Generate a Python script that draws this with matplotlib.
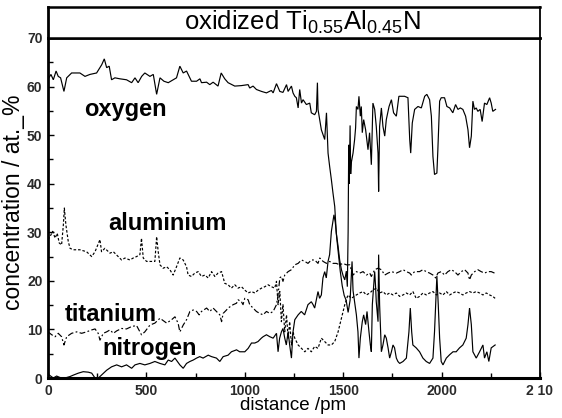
import matplotlib
matplotlib.use("Agg")
import matplotlib.pyplot as plt
from matplotlib.ticker import MultipleLocator, FixedLocator

plt.rcParams['font.family'] = ['Liberation Sans', 'DejaVu Sans']
plt.rcParams['mathtext.fontset'] = 'custom'
plt.rcParams['mathtext.rm'] = 'Liberation Sans'
plt.rcParams['mathtext.it'] = 'Liberation Sans:italic'
plt.rcParams['mathtext.bf'] = 'Liberation Sans:bold'
plt.rcParams['mathtext.default'] = 'regular'

# ---- depth profiles (distance in pm, concentration in at.%) ----
oxygen_x = [0, 15, 27, 41, 52, 64, 81, 95, 120, 162, 188, 213, 247, 273, 286, 298, 311, 323,
            340, 365, 399, 425, 442, 458, 476, 492, 518, 535, 552, 569, 589, 611, 636, 653,
            670, 687, 704, 729, 755, 772, 780, 806, 822, 839, 864, 880, 898, 915, 949, 983,
            1017, 1025, 1042, 1059, 1085, 1110, 1135, 1144, 1161, 1178, 1194, 1212, 1220,
            1237, 1245, 1254, 1262, 1271, 1279, 1288, 1296, 1313, 1330, 1338, 1355, 1364,
            1369, 1372, 1381, 1389, 1406, 1415, 1423, 1431, 1440, 1448, 1457, 1465, 1474,
            1482, 1491, 1500, 1508, 1516, 1521, 1525, 1528, 1531, 1535, 1538, 1541, 1550,
            1558, 1563, 1567, 1575, 1580, 1587, 1592, 1597, 1604, 1614, 1626, 1634, 1643,
            1651, 1660, 1668, 1677, 1680, 1685, 1694, 1702, 1711, 1719, 1733, 1745, 1756,
            1770, 1783, 1795, 1812, 1829, 1838, 1843, 1851, 1863, 1880, 1897, 1914, 1925,
            1939, 1948, 1956, 1964, 1976, 1981, 1990, 1998, 2015, 2027, 2041, 2057, 2071,
            2083, 2095, 2108, 2122, 2134, 2142, 2151, 2159, 2167, 2176, 2184, 2196, 2206,
            2218, 2230, 2244, 2252, 2260, 2274]
oxygen_c = [61.5, 62.5, 61.4, 63.2, 62.1, 61.8, 59.0, 61.8, 62.8, 62.8, 62.1, 62.5, 62.8, 64.5,
            65.7, 63.9, 64.2, 61.4, 61.8, 61.6, 61.4, 60.8, 61.8, 60.8, 62.1, 62.8, 62.1, 62.5,
            58.4, 61.8, 61.1, 60.8, 61.4, 61.8, 64.2, 62.8, 63.2, 61.1, 61.1, 61.6, 60.8, 60.9,
            60.4, 60.9, 60.1, 62.8, 61.6, 60.8, 60.1, 60.2, 60.4, 59.7, 60.1, 59.4, 59.0, 58.7,
            59.2, 58.7, 60.6, 59.0, 58.8, 60.4, 59.0, 60.1, 58.7, 58.0, 57.7, 55.6, 59.4, 56.6,
            57.3, 56.3, 56.6, 54.6, 54.2, 54.9, 60.8, 55.3, 53.0, 51.1, 49.1, 54.6, 46.3, 43.6,
            40.8, 38.1, 35.3, 29.8, 27.1, 24.3, 22.3, 21.0, 20.2, 22.0, 18.8, 30.0, 48.0, 40.0,
            52.0, 42.0, 44.3, 46.3, 49.1, 51.5, 55.9, 55.3, 58.0, 53.9, 55.9, 50.5, 53.2, 51.1,
            47.0, 50.5, 43.9, 56.6, 55.3, 51.8, 46.3, 38.4, 51.8, 55.6, 51.8, 49.8, 53.2, 55.9,
            57.3, 54.6, 53.9, 58.0, 58.0, 58.0, 57.7, 49.1, 46.3, 52.5, 55.3, 55.9, 55.6, 58.0,
            58.4, 57.3, 53.9, 45.6, 41.9, 42.2, 47.0, 57.0, 57.7, 57.7, 55.9, 55.6, 54.6, 56.3,
            55.3, 55.6, 55.3, 53.9, 51.1, 47.4, 49.8, 57.0, 55.3, 55.6, 54.9, 55.3, 52.8, 56.6,
            56.3, 57.7, 56.6, 54.9, 55.3]

aluminium_x = [0, 10, 24, 36, 47, 57, 69, 78, 83, 91, 103, 112, 129, 162, 196, 222, 239, 264,
               272, 289, 315, 332, 357, 374, 391, 416, 433, 450, 467, 475, 484, 501, 518, 543,
               552, 560, 569, 585, 603, 619, 636, 653, 670, 687, 704, 712, 729, 746, 763, 780,
               797, 814, 831, 848, 864, 882, 898, 915, 932, 949, 966, 983, 1000, 1017, 1034,
               1051, 1068, 1085, 1102, 1118, 1135, 1152, 1161, 1169, 1178, 1186, 1194, 1203,
               1212, 1220, 1228, 1237, 1245, 1254, 1271, 1288, 1305, 1321, 1338, 1355, 1372,
               1389, 1406, 1423, 1440, 1457, 1474, 1491, 1508, 1524, 1541, 1567, 1584, 1601,
               1618, 1635, 1651, 1668, 1685, 1702, 1719, 1736, 1753, 1770, 1787, 1804, 1821,
               1838, 1854, 1871, 1888, 1905, 1922, 1939, 1956, 1973, 1990, 2007, 2024, 2041,
               2058, 2074, 2091, 2108, 2125, 2142, 2159, 2176, 2193, 2210, 2227, 2244, 2260,
               2272]
aluminium_c = [28.5, 29.1, 30.2, 28.8, 29.8, 27.8, 27.4, 31.5, 35.0, 31.5, 28.1, 26.7, 26.4,
               26.4, 26.0, 25.0, 26.0, 28.5, 26.0, 26.7, 25.7, 26.0, 25.0, 24.3, 24.7, 24.3,
               24.7, 25.0, 25.4, 28.8, 24.7, 24.0, 24.0, 24.0, 29.1, 26.0, 23.3, 22.6, 22.9,
               22.3, 21.2, 22.9, 24.7, 24.3, 22.9, 21.2, 20.9, 21.6, 21.9, 20.9, 21.2, 20.6,
               21.9, 20.9, 21.6, 21.9, 19.5, 19.2, 18.5, 19.2, 18.5, 18.8, 18.1, 17.5, 17.8,
               17.5, 18.1, 18.5, 18.8, 19.2, 18.8, 18.5, 19.9, 15.1, 17.8, 11.6, 15.1, 9.5,
               13.0, 8.2, 11.6, 6.8, 9.5, 8.2, 6.8, 6.1, 5.4, 6.1, 5.4, 6.5, 6.1, 8.2, 7.5, 6.8,
               6.8, 7.5, 9.5, 12.3, 15.1, 17.1, 16.4, 17.1, 17.5, 17.8, 17.1, 17.5, 18.1, 18.5,
               17.5, 17.8, 17.1, 17.5, 17.1, 17.5, 16.8, 17.1, 17.5, 17.1, 17.8, 16.4, 16.8,
               17.5, 17.1, 17.5, 17.8, 17.1, 17.5, 17.1, 17.8, 17.1, 17.5, 17.8, 17.5, 17.1,
               17.5, 17.8, 17.5, 17.8, 17.5, 17.1, 17.5, 17.1, 16.8, 16.4]

titanium_x = [0, 19, 36, 52, 69, 81, 95, 120, 146, 171, 196, 222, 239, 255, 264, 281, 298, 315,
              332, 349, 374, 399, 425, 450, 467, 475, 492, 518, 543, 569, 603, 628, 645, 661,
              670, 687, 704, 721, 738, 755, 768, 780, 806, 822, 839, 856, 873, 882, 890, 907,
              915, 941, 958, 966, 983, 991, 1000, 1017, 1025, 1042, 1059, 1076, 1093, 1110,
              1127, 1144, 1161, 1169, 1178, 1186, 1194, 1203, 1220, 1237, 1254, 1271, 1288,
              1305, 1321, 1338, 1355, 1372, 1381, 1398, 1415, 1431, 1448, 1465, 1482, 1499,
              1516, 1533, 1550, 1567, 1584, 1601, 1618, 1635, 1643, 1660, 1677, 1694, 1711,
              1728, 1745, 1770, 1787, 1804, 1821, 1838, 1846, 1863, 1888, 1905, 1922, 1939,
              1956, 1970, 1981, 1998, 2015, 2032, 2049, 2066, 2083, 2100, 2117, 2134, 2142,
              2151, 2168, 2184, 2201, 2218, 2235, 2252, 2269]
titanium_c = [9.5, 8.9, 8.5, 9.2, 8.5, 6.8, 8.5, 9.2, 9.5, 9.2, 9.5, 9.9, 10.1, 9.2, 7.8, 9.2,
              9.5, 9.9, 9.2, 9.7, 10.2, 10.1, 10.6, 10.8, 9.5, 8.9, 9.5, 10.9, 11.3, 12.3, 11.3,
              12.0, 12.6, 11.3, 9.5, 10.9, 12.0, 13.7, 14.0, 13.7, 13.0, 13.7, 14.4, 13.7, 14.4,
              13.7, 13.0, 11.6, 13.3, 14.0, 14.4, 15.1, 15.4, 16.1, 15.7, 15.1, 16.4, 16.1,
              15.1, 14.4, 13.7, 13.3, 13.0, 13.7, 13.3, 13.7, 15.1, 17.1, 20.6, 20.9, 19.9,
              21.2, 21.9, 22.3, 23.3, 23.6, 24.3, 24.0, 23.6, 24.3, 24.3, 23.6, 24.7, 24.0,
              23.6, 24.0, 23.6, 23.6, 23.3, 23.6, 23.3, 23.3, 21.2, 21.9, 21.6, 21.9, 21.2,
              21.6, 20.9, 22.3, 22.6, 22.3, 21.2, 21.6, 21.9, 21.6, 21.9, 22.3, 21.9, 21.6,
              21.2, 21.9, 21.9, 22.3, 21.9, 21.6, 21.2, 20.6, 21.6, 21.9, 21.2, 21.9, 22.3,
              21.9, 21.2, 21.9, 22.3, 21.6, 20.2, 21.2, 21.9, 22.3, 21.9, 21.6, 21.9, 21.9,
              21.6]

nitrogen_x = [0, 27, 44, 61, 86, 112, 129, 154, 179, 205, 222, 239, 256, 272, 298, 323, 349,
              374, 399, 425, 442, 467, 492, 518, 543, 569, 594, 611, 628, 645, 670, 687, 704,
              721, 738, 755, 771, 788, 814, 831, 856, 873, 890, 915, 932, 958, 974, 1000, 1017,
              1034, 1051, 1067, 1084, 1093, 1110, 1127, 1144, 1161, 1169, 1177, 1186, 1194,
              1203, 1211, 1220, 1228, 1237, 1245, 1254, 1271, 1287, 1304, 1321, 1338, 1347,
              1355, 1372, 1380, 1389, 1397, 1406, 1414, 1423, 1431, 1440, 1453, 1460, 1468,
              1476, 1485, 1495, 1505, 1515, 1525, 1535, 1545, 1550, 1558, 1567, 1575, 1580,
              1587, 1597, 1604, 1614, 1621, 1626, 1631, 1638, 1643, 1648, 1655, 1660, 1665,
              1668, 1677, 1680, 1685, 1694, 1702, 1711, 1719, 1728, 1736, 1745, 1753, 1761,
              1770, 1778, 1787, 1804, 1821, 1834, 1841, 1848, 1854, 1871, 1888, 1905, 1922,
              1939, 1956, 1964, 1970, 1976, 1983, 1990, 1998, 2007, 2024, 2041, 2058, 2074,
              2091, 2108, 2125, 2134, 2142, 2151, 2159, 2176, 2193, 2210, 2218, 2230, 2240,
              2252, 2272]
nitrogen_c = [0.8, 0.0, 0.4, 0.1, 0.0, 0.3, 0.6, 1.0, 1.3, 1.2, 1.0, 0.0, 0.0, 0.6, 1.6, 2.3,
              2.7, 2.3, 2.7, 2.0, 2.7, 3.0, 2.7, 3.0, 3.4, 3.0, 2.7, 3.7, 3.4, 4.1, 2.7, 2.0,
              3.0, 3.4, 3.7, 4.1, 4.4, 4.1, 4.7, 4.4, 4.1, 3.4, 4.4, 4.7, 5.4, 5.8, 5.4, 5.4,
              6.1, 7.2, 7.2, 7.5, 8.2, 8.5, 8.9, 8.5, 8.2, 9.2, 5.4, 8.2, 9.5, 10.2, 8.2, 6.8,
              9.5, 6.8, 4.1, 9.5, 12.0, 13.0, 13.7, 13.0, 15.1, 15.7, 15.1, 14.4, 17.8, 16.4,
              17.1, 20.6, 21.9, 20.6, 24.0, 25.4, 30.2, 33.6, 32.0, 28.5, 25.5, 22.0, 19.0,
              17.0, 16.0, 13.5, 16.0, 24.0, 18.0, 15.7, 13.0, 9.5, 4.1, 8.2, 11.6, 13.0, 11.0,
              13.7, 11.6, 9.5, 6.8, 5.4, 15.1, 19.2, 21.9, 18.5, 15.7, 11.6, 25.4, 15.1, 5.4,
              6.8, 8.9, 8.2, 6.2, 4.1, 5.4, 6.8, 6.2, 4.1, 3.4, 3.0, 3.4, 4.1, 9.5, 14.4, 9.5,
              6.8, 6.2, 5.4, 4.1, 3.4, 3.0, 4.1, 9.5, 15.1, 21.0, 15.1, 8.2, 3.4, 2.7, 4.1, 4.8,
              5.4, 5.4, 6.2, 6.8, 8.2, 11.0, 14.4, 11.0, 5.4, 4.1, 5.4, 6.8, 4.1, 5.4, 3.4,
              6.2, 6.8]

series_labels = ["oxygen", "aluminium", "titanium", "nitrogen"]
# label anchor positions (distance, concentration) for the in-plot names
label_x = [393, 607, 317, 515]
label_y = [54.0, 30.5, 11.75, 4.7]

x_ticks = [0, 500, 1000, 1500, 2000, 2500]
x_ticklabels = ["0", "500", "1000", "1500", "2000", "2 10"]
y_ticks = [0, 10, 20, 30, 40, 50, 60, 70]

# ---- figure layout (pixel geometry) ----
W, H = 562, 418
fig = plt.figure(figsize=(W / 100, H / 100), dpi=100)
L, R, B, T, TOP = 48, 540, 378, 38, 7
ax = fig.add_axes([L / W, 1 - B / H, (R - L) / W, (B - T) / H])
box = fig.add_axes([L / W, 1 - T / H, (R - L) / W, (T - TOP) / H])

lw = 0.85
ax.plot(oxygen_x, oxygen_c, color="black", lw=lw, solid_joinstyle="miter")
ax.plot(aluminium_x, aluminium_c, color="black", lw=lw, linestyle=(0, (2.2, 1.6)))
ax.plot(titanium_x, titanium_c, color="black", lw=lw, linestyle=(0, (5, 2, 1.5, 2)))
ax.plot(nitrogen_x, nitrogen_c, color="black", lw=lw, solid_joinstyle="miter")

for name, lx, ly in zip(series_labels, label_x, label_y):
    ax.text(lx, ly, name, ha="center", va="baseline", fontsize=17,
            fontweight="bold", color="black")

ax.set_xlim(0, 2500)
ax.set_ylim(0, 70)
ax.xaxis.set_major_locator(FixedLocator(x_ticks))
ax.set_xticklabels(x_ticklabels)
ax.xaxis.set_minor_locator(MultipleLocator(250))
ax.yaxis.set_major_locator(FixedLocator(y_ticks))
ax.yaxis.set_minor_locator(MultipleLocator(5))
ax.tick_params(axis="both", which="both", direction="in", top=False, right=False,
               colors="black", labelcolor="#2a2a2a")
ax.tick_params(axis="both", which="major", length=4.5, width=1.0, labelsize=10)
ax.tick_params(axis="both", which="minor", length=3.5, width=1.0)
ax.tick_params(axis="y", pad=4)
ax.tick_params(axis="x", pad=4)
for lab in ax.get_xticklabels() + ax.get_yticklabels():
    lab.set_family(["Liberation Sans Narrow", "Liberation Sans"])
    lab.set_fontweight("bold")

ax.spines["left"].set_linewidth(2.0)
ax.spines["bottom"].set_linewidth(2.2)
ax.spines["right"].set_linewidth(1.3)
ax.spines["top"].set_linewidth(1.8)

ax.set_xlabel("distance /pm", fontsize=13.5)
ax.xaxis.set_label_coords((293 - L) / (R - L), (B - 397) / (B - T))
ax.set_ylabel("concentration / at._%", fontsize=16.5)
ax.yaxis.set_label_coords((25 - L) / (R - L), (B - 202) / (B - T))

box.set_xticks([])
box.set_yticks([])
box.spines["left"].set_linewidth(2.0)
box.spines["top"].set_linewidth(1.8)
box.spines["right"].set_linewidth(1.3)
box.spines["bottom"].set_linewidth(1.8)
fig.text(302 / W, 1 - 29.5 / H, "oxidized Ti$_{0.55}$Al$_{0.45}$N",
         ha="center", va="baseline", fontsize=18.5)

fig.savefig("out.png", dpi=100)
